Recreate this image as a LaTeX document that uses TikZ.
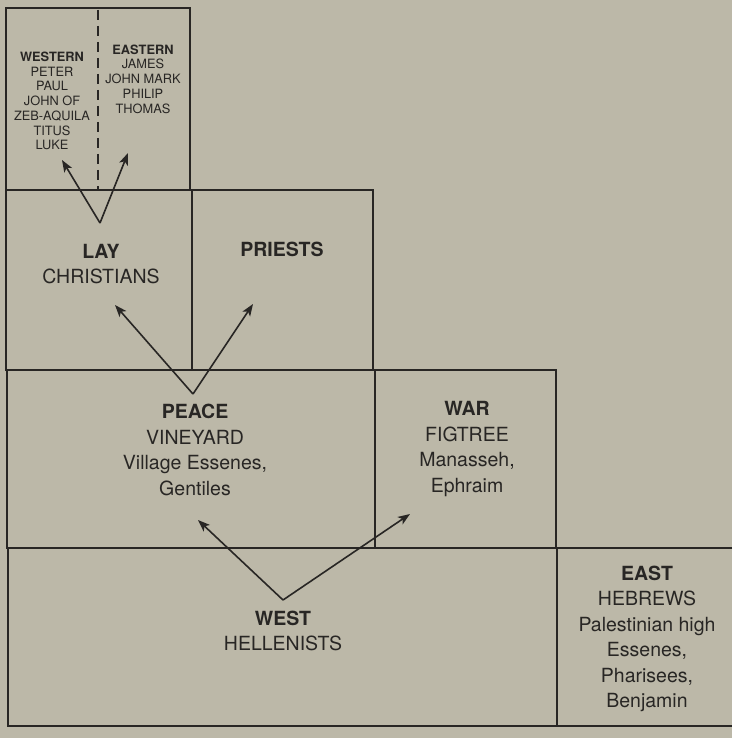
\documentclass[tikz,border=0pt]{standalone}
\usepackage{fontspec}
\setmainfont{TeX Gyre Heros}
\usetikzlibrary{arrows.meta}
\definecolor{paper}{RGB}{188,184,168}
\definecolor{ink}{RGB}{40,38,36}

\begin{document}
\begin{tikzpicture}[x=1pt, y=-1pt,
      zone/.style={draw=ink, line width=1.5pt},
      split/.style={draw=ink, line width=1.6pt, dash pattern=on 10pt off 6pt},
      flow/.style={-{Stealth[length=12pt,width=9pt,inset=3pt]}, line width=1.6pt, draw=ink},
      lbl/.style={font=\fontsize{19.5}{25.5}\selectfont, align=center, text=ink, inner sep=0pt},
      sml/.style={font=\fontsize{12.8}{14.7}\selectfont, align=center, text=ink, inner sep=0pt}
    ]
    \fill[paper] (0,0) rectangle (732,738);
    \useasboundingbox (0,0) rectangle (732,738);
    % boxes, top to bottom
    \draw[zone] (6,8) rectangle (190,190);
    \draw[split] (98,10) -- (98,190);
    \draw[zone] (6,190) rectangle (373,370);
    \draw[zone] (192,190) -- (192,370);
    \draw[zone] (7,370) rectangle (556,548);
    \draw[zone] (375,370) -- (375,548);
    \draw[zone] (732,548) -- (8,548) -- (8,726) -- (732,726);
    \draw[zone] (557,548) -- (557,726);
    % texts
    \node[sml] (western) at (52,101) {\bfseries WESTERN\\PETER\\PAUL\\JOHN OF\\ZEB-AQUILA\\TITUS\\LUKE};
    \node[sml] (eastern) at (143,79) {\bfseries EASTERN\\JAMES\\JOHN MARK\\PHILIP\\THOMAS};
    \node[lbl] (lay)     at (101,264) {\bfseries LAY\\CHRISTIANS};
    \node[lbl] (priests) at (282,249) {\bfseries PRIESTS};
    \node[lbl] (peace)   at (195,450) {\bfseries PEACE\\VINEYARD\\Village Essenes,\\Gentiles};
    \node[lbl] (war)     at (467,449) {\bfseries WAR\\FIGTREE\\Manasseh,\\Ephraim};
    \node[lbl] (west)    at (283,631) {\bfseries WEST\\HELLENISTS};
    \node[lbl] (east)    at (647,639) {\bfseries EAST\\HEBREWS\\Palestinian high\\Essenes,\\Pharisees,\\Benjamin};
    % arrow ends
    \coordinate (v1) at (100,223);
    \coordinate (t1a) at (62,160);
    \coordinate (t1b) at (128,153);
    \coordinate (v2) at (193,394);
    \coordinate (t2a) at (115,305);
    \coordinate (t2b) at (253,304);
    \coordinate (v3) at (283,600);
    \coordinate (t3a) at (198,520);
    \coordinate (t3b) at (410,514);
    \draw[flow] (v1) -- (t1a);
    \draw[flow] (v1) -- (t1b);
    \draw[flow] (v2) -- (t2a);
    \draw[flow] (v2) -- (t2b);
    \draw[flow] (v3) -- (t3a);
    \draw[flow] (v3) -- (t3b);
  \end{tikzpicture}
\end{document}
